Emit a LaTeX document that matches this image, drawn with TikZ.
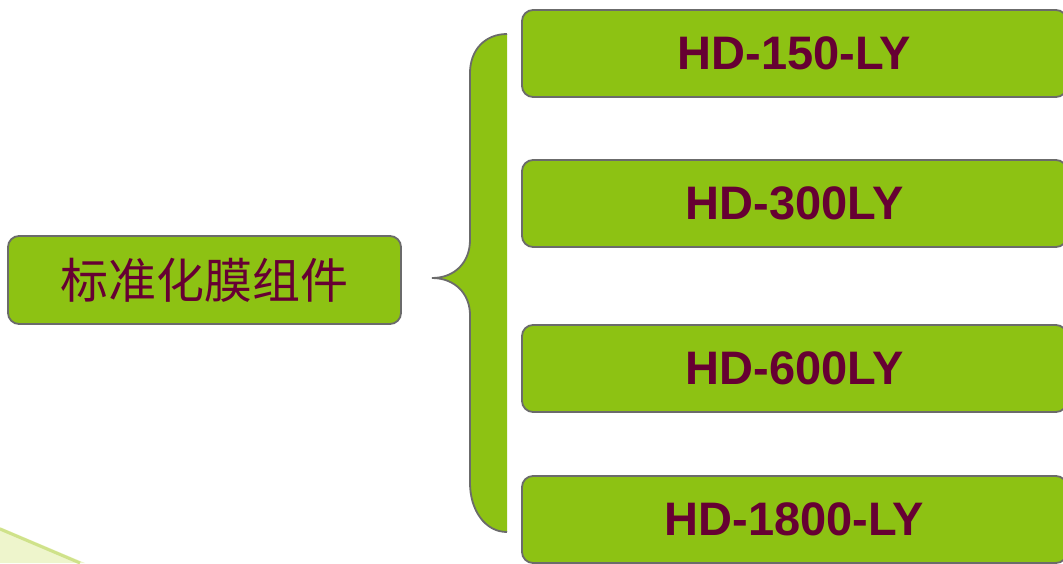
\documentclass[tikz,border=0pt]{standalone}
\usepackage{fontspec}
\setmainfont{Liberation Sans}
\newfontfamily\cjk{Noto Sans CJK SC}
\begin{document}
\begin{tikzpicture}[x=1pt,y=-1pt,
  box/.style={draw=boxline, fill=boxgreen, line width=1.8pt, rounded corners=11pt, inner sep=0pt},
  model/.style={box, minimum width=545pt, minimum height=87pt, text=textred, font=\fontsize{47}{50}\selectfont\bfseries}]
\definecolor{boxgreen}{HTML}{8DC213}
\definecolor{boxline}{HTML}{6B6B6B}
\definecolor{textred}{HTML}{660033}
\definecolor{swfill}{HTML}{EEF5CC}
\definecolor{swedge}{HTML}{CFE28A}
\useasboundingbox (0,0) rectangle (1063,563);
% bottom-left swoosh
\fill[swfill] (0,527) -- (85,563) -- (0,563) -- cycle;
\draw[swedge, line width=3pt] (0,529) -- (80,563);
% brace
\fill[boxgreen] (507,34) .. controls (485,34) and (470,50) .. (470,73) -- (470,240)
  .. controls (470,262) and (455,278) .. (432,278)
  .. controls (455,278) and (470,294) .. (470,315) -- (470,483)
  .. controls (470,510) and (485,532) .. (507,532) -- cycle;
\draw[boxline, line width=1.8pt] (507,34) .. controls (485,34) and (470,50) .. (470,73) -- (470,240)
  .. controls (470,262) and (455,278) .. (432,278)
  .. controls (455,278) and (470,294) .. (470,315) -- (470,483)
  .. controls (470,510) and (485,532) .. (507,532);
% nodes
\node[box, minimum width=393pt, minimum height=88pt, text=textred, font=\cjk\fontsize{48}{52}\selectfont] (main) at (204.5,280) {标准化膜组件};
\node[model] (m1) at (794.5,53.5) {HD-150-LY};
\node[model] (m2) at (794.5,203.5) {HD-300LY};
\node[model] (m3) at (794.5,368.5) {HD-600LY};
\node[model] (m4) at (794.5,519.5) {HD-1800-LY};
\end{tikzpicture}
\end{document}
